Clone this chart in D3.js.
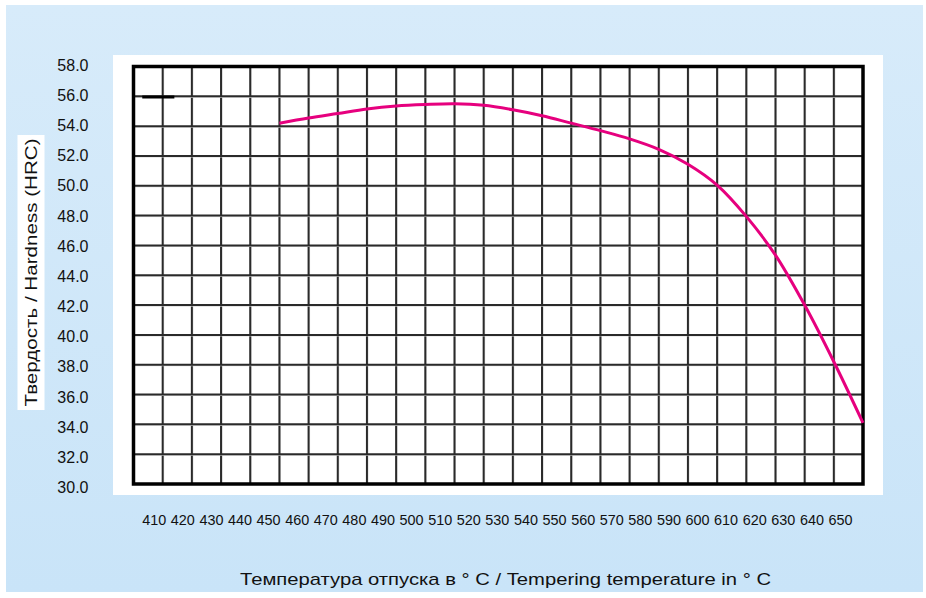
<!DOCTYPE html>
<html>
<head>
<meta charset="utf-8">
<script src="https://cdn.jsdelivr.net/npm/d3@7"></script>
<style>
  html, body { margin: 0; padding: 0; background: #ffffff; }
  svg { display: block; }
  text { font-family: "Liberation Sans", Arial, Helvetica, sans-serif; fill: #111; }
</style>
</head>
<body>
<svg id="chart" width="926" height="598"></svg>
<script>
// ---- data ----
const xTickLabels = [410, 420, 430, 440, 450, 460, 470, 480, 490, 500, 510, 520, 530,
                     540, 550, 560, 570, 580, 590, 600, 610, 620, 630, 640, 650];
const yTickLabels = [30, 32, 34, 36, 38, 40, 42, 44, 46, 48, 50, 52, 54, 56, 58];
const temps    = [450, 460, 470, 480, 490, 500, 510, 520, 530, 540, 550,
                  560, 570, 580, 590, 600, 610, 620, 630, 640, 650];
const hardness = [54.2, 54.55, 54.85, 55.15, 55.35, 55.45, 55.5, 55.4, 55.1, 54.7, 54.2,
                  53.7, 53.15, 52.45, 51.45, 50.05, 47.95, 45.35, 42.0, 38.2, 34.1];
const refTemps    = [403, 414];
const refHardness = [56, 56];
const xTitle = "Температура отпуска в ° С / Tempering temperature in ° C";
const yTitle = "Твердость  /  Hardness (HRC)";

// ---- layout ----
const svg = d3.select("#chart");
const defs = svg.append("defs");
const grad = defs.append("linearGradient").attr("id", "bg").attr("x1", 0).attr("y1", 0).attr("x2", 0).attr("y2", 1);
grad.append("stop").attr("offset", "0%").attr("stop-color", "#d7ebfa");
grad.append("stop").attr("offset", "100%").attr("stop-color", "#c9e4f8");

svg.append("rect").attr("x", 6).attr("y", 5).attr("width", 917).attr("height", 587).attr("fill", "url(#bg)");
svg.append("rect").attr("x", 113).attr("y", 55).attr("width", 770).attr("height", 440).attr("fill", "#ffffff");

const x = d3.scaleLinear().domain([400, 650]).range([133.5, 863]);
const y = d3.scaleLinear().domain([30, 58]).range([484, 66.5]);
const xLabel = d3.scalePoint().domain(xTickLabels).range([153.7, 840]);
const yLabel = d3.scaleLinear().domain([30, 58]).range([487, 64.7]);

// grid
const gridX = d3.range(x.domain()[0] + 10, x.domain()[1], 10);
const gridY = yTickLabels.slice(1, -1);
const grid = svg.append("g");
grid.selectAll("line.vs").data(gridX).join("line")
  .attr("x1", d => x(d) + 1).attr("x2", d => x(d) + 1)
  .attr("y1", y(58)).attr("y2", y(30))
  .attr("stroke", "#d4d4d4").attr("stroke-width", 1);
grid.selectAll("line.v").data(gridX).join("line")
  .attr("x1", d => x(d)).attr("x2", d => x(d))
  .attr("y1", y(58)).attr("y2", y(30))
  .attr("stroke", "#2a2a2a").attr("stroke-width", 2);
grid.selectAll("line.hs").data(gridY).join("line")
  .attr("x1", x(400)).attr("x2", x(650))
  .attr("y1", d => y(d) + 1).attr("y2", d => y(d) + 1)
  .attr("stroke", "#d4d4d4").attr("stroke-width", 1);
grid.selectAll("line.h").data(gridY).join("line")
  .attr("x1", x(400)).attr("x2", x(650))
  .attr("y1", d => y(d)).attr("y2", d => y(d))
  .attr("stroke", "#2a2a2a").attr("stroke-width", 2);

// frame
svg.append("rect")
  .attr("x", x(400)).attr("y", y(58))
  .attr("width", x(650) - x(400)).attr("height", y(30) - y(58))
  .attr("fill", "none").attr("stroke", "#000").attr("stroke-width", 3.5);

// reference black segment
const line = d3.line().x(d => x(d[0])).y(d => y(d[1]));
svg.append("path")
  .datum(d3.zip(refTemps, refHardness))
  .attr("d", line)
  .attr("transform", "translate(0,0.8)")
  .attr("stroke", "#000").attr("stroke-width", 3).attr("fill", "none");

// curve
const curve = d3.line().x(d => x(d[0])).y(d => y(d[1])).curve(d3.curveCatmullRom.alpha(0.5));
svg.append("path")
  .datum(d3.zip(temps, hardness))
  .attr("d", curve)
  .attr("stroke", "#e6007e").attr("stroke-width", 3).attr("fill", "none")
  .attr("stroke-linecap", "butt");

// x tick labels
const xAxis = svg.append("g").attr("transform", "translate(0,520)")
  .call(d3.axisBottom(xLabel).tickSize(0).tickPadding(0));
xAxis.select(".domain").remove();
xAxis.selectAll("text")
  .attr("y", 0).attr("dy", "0.35em")
  .style("font-size", "14.4px")
  .style("font-family", '"Liberation Sans", Arial, sans-serif')
  .attr("fill", "#111");

// y tick labels
const yAxis = svg.append("g").attr("transform", "translate(88.5,0)")
  .call(d3.axisLeft(yLabel).tickValues(yTickLabels).tickFormat(d3.format(".1f")).tickSize(0).tickPadding(0));
yAxis.select(".domain").remove();
yAxis.selectAll("text")
  .attr("x", 0).attr("dy", "0.35em")
  .style("font-size", "16px")
  .style("font-family", '"Liberation Sans", Arial, sans-serif')
  .attr("fill", "#111");

// y title with white box
const yt = svg.append("g").attr("transform", "translate(31,272.5) rotate(-90)");
yt.append("rect").attr("fill", "#ffffff")
  .attr("x", -137.5).attr("y", -13.5).attr("width", 275).attr("height", 27);
yt.append("text")
  .attr("text-anchor", "middle").attr("dy", "0.35em")
  .style("font-size", "16.4px")
  .attr("textLength", 268).attr("lengthAdjust", "spacingAndGlyphs")
  .text(yTitle);

// x title
svg.append("text")
  .attr("x", 505.5).attr("y", 584.5)
  .attr("text-anchor", "middle")
  .style("font-size", "17px")
  .attr("textLength", 531).attr("lengthAdjust", "spacingAndGlyphs")
  .text(xTitle);
</script>
</body>
</html>
